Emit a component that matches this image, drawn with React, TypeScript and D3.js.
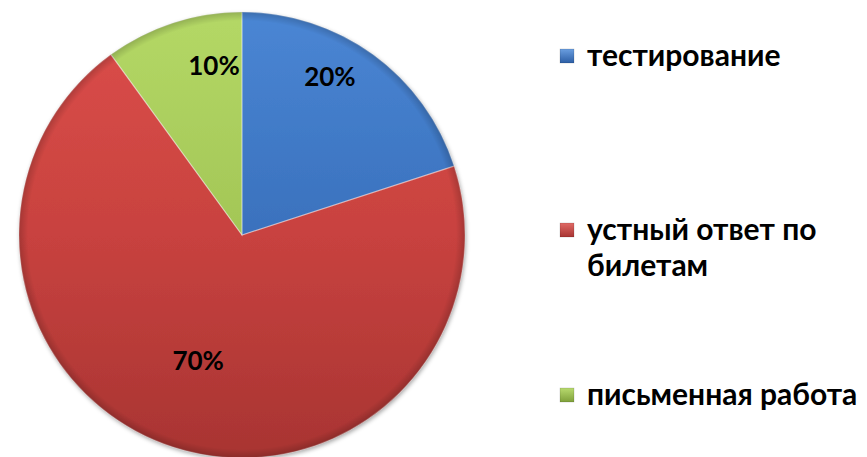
import React from "react";
import * as d3 from "d3";

const categories = ["тестирование", "устный ответ по билетам", "письменная работа"];
const values = [20, 70, 10];
const labels = ["20%", "70%", "10%"];
const legendLines = [["тестирование"], ["устный ответ по", "билетам"], ["письменная работа"]];

const W = 867;
const H = 457;
const cx = 242;
const cy = 235;
const R = 223;

const gradStops = [
  ["#4a86d4", "#3a71bd", "#2d5fa6"],
  ["#dc4e4a", "#c8423f", "#a83432"],
  ["#b4d866", "#a3c656", "#8fb045"],
];
const legendColors = [
  ["#6a9ee0", "#2c5ea5"],
  ["#e06a66", "#a83432"],
  ["#b8da6e", "#7fa03a"],
];

// label placement tweaks (angle offset in radians, radius fraction)
const labelPlace = [
  { da: -0.12, rf: 0.81 },
  { da: 0.02, rf: 0.6 },
  { da: 0.15, rf: 0.77 },
];

export default function App() {
  const pie = d3.pie<number>().sort(null).value((d) => d)(values);
  const arc = d3.arc<d3.PieArcDatum<number>>().innerRadius(0).outerRadius(R);
  const legendY = [66, 240, 405];
  const font = "Lato, 'Open Sans', sans-serif";
  return (
    <svg width={W} height={H} style={{ position: "absolute", left: 0, top: 0, background: "#fff" }}>
      <defs>
        {gradStops.map((s, i) => (
          <linearGradient key={i} id={`g${i}`} gradientUnits="userSpaceOnUse" x1={0} y1={-R} x2={0} y2={R}>
            <stop offset="0%" stopColor={s[0]} />
            <stop offset="50%" stopColor={s[1]} />
            <stop offset="100%" stopColor={s[2]} />
          </linearGradient>
        ))}
        {legendColors.map((s, i) => (
          <linearGradient key={i} id={`lg${i}`} x1="0" y1="0" x2="0" y2="1">
            <stop offset="0%" stopColor={s[0]} />
            <stop offset="100%" stopColor={s[1]} />
          </linearGradient>
        ))}
        <filter id="shadow" x="-10%" y="-10%" width="120%" height="120%">
          <feDropShadow dx="1" dy="2" stdDeviation="2" floodColor="#000" floodOpacity="0.35" />
        </filter>
        <radialGradient id="bevel" gradientUnits="userSpaceOnUse" cx={0} cy={0} r={R}>
          <stop offset="0.96" stopColor="#000" stopOpacity="0" />
          <stop offset="1" stopColor="#000" stopOpacity="0.18" />
        </radialGradient>
      </defs>
      <g transform={`translate(${cx},${cy})`}>
        <g filter="url(#shadow)">
          {pie.map((p, i) => (
            <path key={i} d={arc(p) || ""} fill={`url(#g${i})`} />
          ))}
        </g>
        {pie.map((p, i) => (
          <path key={"e" + i} d={arc(p) || ""} fill="none" stroke="rgba(255,255,255,0.3)" strokeWidth={1.2} />
        ))}
        <circle r={R} fill="url(#bevel)" style={{ pointerEvents: "none" }} />
        {pie.map((p, i) => {
          const mid = (p.startAngle + p.endAngle) / 2 + labelPlace[i].da;
          const r = R * labelPlace[i].rf;
          const x = Math.sin(mid) * r;
          const y = -Math.cos(mid) * r;
          return (
            <text key={"t" + i} x={x} y={y} dy="0.35em" textAnchor="middle" fontFamily={font} fontWeight="bold" fontSize={26} fill="#000">
              {labels[i]}
            </text>
          );
        })}
      </g>
      {categories.map((c, i) => (
        <g key={"l" + i}>
          <rect x={560} y={legendY[i] - 17} width={14} height={14} fill={`url(#lg${i})`} stroke="rgba(0,0,0,0.25)" strokeWidth={0.5} />
          <text x={587} y={legendY[i]} fontFamily={font} fontWeight="bold" fontSize={30} fill="#000">
            {legendLines[i].map((ln, j) => (
              <tspan key={j} x={587} dy={j === 0 ? 0 : 36}>
                {ln}
              </tspan>
            ))}
          </text>
        </g>
      ))}
    </svg>
  );
}
